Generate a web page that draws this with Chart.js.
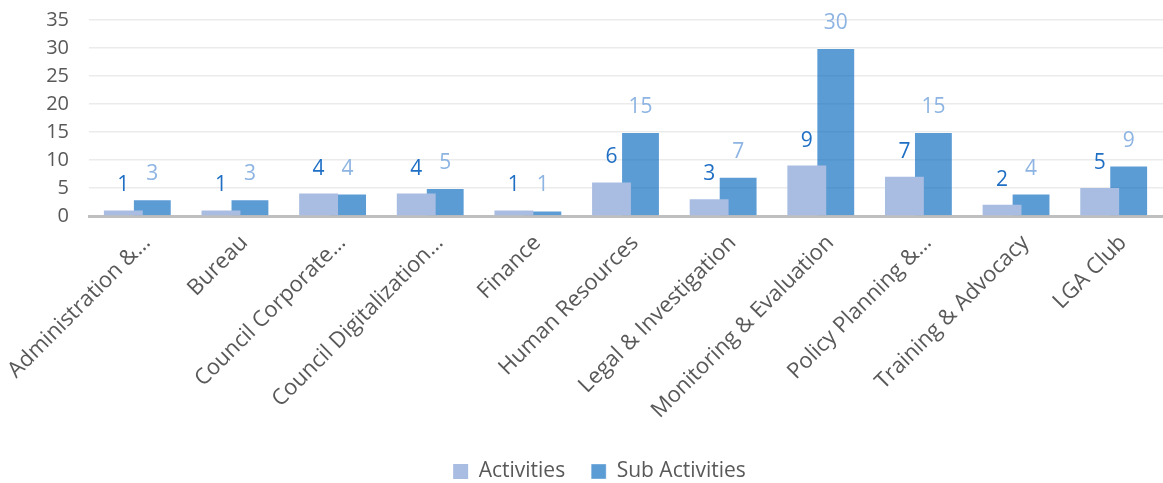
<!DOCTYPE html>
<html>
<head>
<meta charset="utf-8">
<script src="https://cdn.jsdelivr.net/npm/chart.js@4"></script>
<style>
html,body{margin:0;padding:0;background:#fff;}
#wrap{width:1163px;height:483px;position:relative;}
</style>
</head>
<body>
<div id="wrap"><canvas id="c"></canvas></div>
<script>
const categories = ["Administration &\u2026","Bureau","Council Corporate\u2026","Council Digitalization\u2026","Finance","Human Resources","Legal & Investigation","Monitoring & Evaluation","Policy Planning &\u2026","Training & Advocacy","LGA Club"];
const activities = [1,1,4,4,1,6,3,9,7,2,5];
const subActivities = [3,3,4,5,1,15,7,30,15,4,9];
const yTicks = [0,5,10,15,20,25,30,35];

const FONT = "'Open Sans', 'Noto Sans', sans-serif";
const labelColors = ['#1F6FC5', '#8DB4E2'];

const valueLabels = {
  id: 'valueLabels',
  afterDatasetsDraw(chart) {
    const ctx = chart.ctx;
    ctx.save();
    ctx.font = "21px " + FONT;
    ctx.textAlign = 'center';
    ctx.textBaseline = 'middle';
    chart.data.datasets.forEach((ds, di) => {
      const meta = chart.getDatasetMeta(di);
      ctx.fillStyle = labelColors[di];
      meta.data.forEach((el, i) => {
        ctx.fillText(String(ds.data[i]), el.x, el.y - 25);
      });
    });
    ctx.restore();
  }
};

new Chart(document.getElementById('c'), {
  type: 'bar',
  data: {
    labels: categories,
    datasets: [
      {
        label: 'Activities',
        data: activities,
        backgroundColor: 'rgb(169,189,226)',
        borderWidth: 0,
        categoryPercentage: 0.594,
        barPercentage: 1.34
      },
      {
        label: 'Sub Activities',
        data: subActivities,
        backgroundColor: 'rgba(8,104,192,0.66)',
        borderColor: 'rgba(255,255,255,0.35)',
        borderWidth: 1,
        categoryPercentage: 0.594,
        barPercentage: 1.34
      }
    ]
  },
  options: {
    responsive: true,
    maintainAspectRatio: false,
    animation: false,
    layout: { padding: { top: 20, right: 0, bottom: -9, left: 36 } },
    plugins: {
      legend: {
        position: 'bottom',
        labels: {
          boxWidth: 15, boxHeight: 15,
          color: '#595959',
          font: { family: FONT, size: 21 },
          padding: 26
        }
      },
      tooltip: { enabled: false }
    },
    scales: {
      x: {
        grid: { display: false },
        border: { display: true, color: '#BFBFBF', width: 3 },
        afterFit(axis) { axis.height = 219; axis.paddingLeft = 0; axis.paddingRight = 0; },
        ticks: {
          color: '#595959',
          font: { family: FONT, size: 22 },
          minRotation: 45, maxRotation: 45,
          autoSkip: false,
          padding: 6,
          labelOffset: 9
        }
      },
      y: {
        min: 0, max: 35,
        afterBuildTicks(axis) { axis.ticks = yTicks.map(v => ({ value: v })); },
        afterFit(axis) { axis.width = 53; axis.paddingTop = 0; axis.paddingBottom = 0; },
        grid: { color: '#EBEBEB', lineWidth: 1.5, drawTicks: false },
        border: { display: false },
        ticks: {
          color: '#595959',
          font: { family: FONT, size: 20 },
          padding: 20,
          autoSkip: false
        }
      }
    }
  },
  plugins: [valueLabels]
});
</script>
</body>
</html>
